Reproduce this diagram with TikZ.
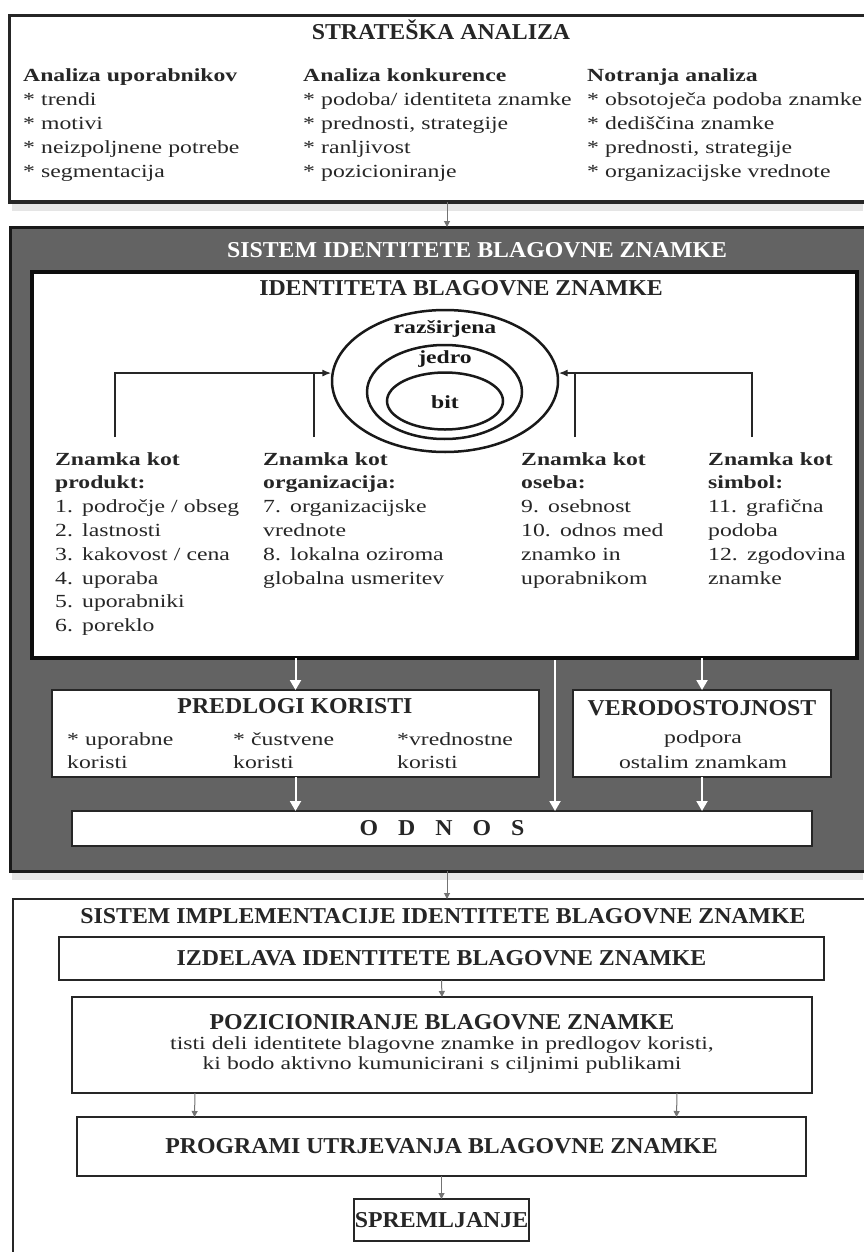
\documentclass[tikz,border=0pt]{standalone}
\usepackage{fontspec}
\setmainfont{Liberation Serif}[FakeStretch=1.28]
\newfontfamily\ttlfont{Liberation Serif}[FakeStretch=1.05]
\usetikzlibrary{shapes.geometric,arrows.meta}

\tikzset{
  box/.style={draw=black!85, line width=2.5pt, fill=white, inner sep=0, outer sep=0},
  tbox/.style={box, font=\ttlfont\bfseries\fontsize{22.7}{26}\selectfont, text=black!85},
  ttl/.style={font=\ttlfont\bfseries\fontsize{22.7}{26}\selectfont, text=black!85, inner sep=0, anchor=base},
  txt/.style={font=\fontsize{18.5}{23.8}\selectfont, text=black!85, inner sep=0, text width=300pt, align=left, anchor=base west},
  lbl/.style={font=\bfseries\fontsize{18.5}{23.8}\selectfont, text=black!90, inner sep=0, anchor=base},
  ring/.style={draw=black!90, line width=2.5pt, ellipse, inner sep=0},
  blk/.style={draw=black!85, line width=2pt, -{Latex[length=9pt,width=7pt]}},
  wht/.style={draw=white, line width=2pt, -{Triangle[length=10pt,width=11pt]}},
  gry/.style={draw=black!55, line width=1pt, -{Triangle[length=6pt,width=6pt]}}
}

\begin{document}
\begin{tikzpicture}[x=1pt,y=-1pt]
  \useasboundingbox (0,0) rectangle (863,1252);
  \fill[white] (0,0) rectangle (863,1252);
  \fill[black!10] (12,204) rectangle (863,211);
  \fill[black!10] (12,873) rectangle (863,880);

  % strateska analiza
  \node[box, line width=3pt, minimum width=857pt, minimum height=186pt] (strat) at (437.5,109) {};
  \node[ttl] (tStrat) at (441,40) {STRATEŠKA ANALIZA};
  \node[txt] (users) at (23,82) {\textbf{Analiza uporabnikov}\\{}* trendi\\{}* motivi\\{}* neizpoljnene potrebe\\{}* segmentacija};
  \node[txt] (rivals) at (303,82) {\textbf{Analiza konkurence}\\{}* podoba/ identiteta znamke\\{}* prednosti, strategije\\{}* ranljivost\\{}* pozicioniranje};
  \node[txt] (inside) at (587,82) {\textbf{Notranja analiza}\\{}* obsotoječa podoba znamke\\{}* dediščina znamke\\{}* prednosti, strategije\\{}* organizacijske vrednote};

  % sistem identitete
  \node[box, fill=black!61, draw=black!90, line width=3pt, minimum width=856pt, minimum height=644pt] (sys) at (438,549) {};
  \node[ttl, text=white] (tSys) at (477,257) {SISTEM IDENTITETE BLAGOVNE ZNAMKE};
  \node[box, draw=black!95, line width=3.5pt, minimum width=825pt, minimum height=386pt] (idb) at (444.5,465) {};
  \node[ttl] (tId) at (461,295) {IDENTITETA BLAGOVNE ZNAMKE};

  \node[ring, minimum width=226pt, minimum height=142pt] (ext) at (445,381) {};
  \node[ring, minimum width=155pt, minimum height=94pt] (core) at (444.5,392) {};
  \node[ring, minimum width=116pt, minimum height=57pt] (ess) at (445,401) {};
  \node[lbl] (tExt) at (445,333) {razširjena};
  \node[lbl] (tCore) at (445,363) {jedro};
  \node[lbl] (tEss) at (445,408) {bit};

  \node[txt] (prod) at (55,465) {\textbf{Znamka kot}\\\textbf{produkt:}\\1. področje / obseg\\2. lastnosti\\3. kakovost / cena\\4. uporaba\\5. uporabniki\\6. poreklo};
  \node[txt] (org) at (263,465) {\textbf{Znamka kot}\\\textbf{organizacija:}\\7. organizacijske\\vrednote\\8. lokalna oziroma\\globalna usmeritev};
  \node[txt] (pers) at (521,465) {\textbf{Znamka kot}\\\textbf{oseba:}\\9. osebnost\\10. odnos med\\znamko in\\uporabnikom};
  \node[txt] (symb) at (708,465) {\textbf{Znamka kot}\\\textbf{simbol:}\\11. grafična\\podoba\\12. zgodovina\\znamke};

  \coordinate (pUp) at (115,437);
  \coordinate (oUp) at (314,437);
  \coordinate (eUp) at (575,437);
  \coordinate (sUp) at (752,437);
  \draw[blk] (pUp) |- (ext.176);
  \draw[draw=black!85, line width=2pt] (oUp) -- (oUp |- ext.176);
  \draw[blk] (sUp) |- (ext.4);
  \draw[draw=black!85, line width=2pt] (eUp) -- (eUp |- ext.4);

  \node[box, minimum width=487pt, minimum height=87pt] (pred) at (295.5,733.5) {};
  \node[ttl] (tPred) at (295,713) {PREDLOGI KORISTI};
  \node[txt] (useB) at (67,745) {* uporabne\\koristi};
  \node[txt] (emoB) at (233,745) {* čustvene\\koristi};
  \node[txt] (valB) at (397,745) {*vrednostne\\koristi};

  \node[box, minimum width=258pt, minimum height=87pt] (vero) at (702,733.5) {};
  \node[ttl] (tVero) at (702,715) {VERODOSTOJNOST};
  \node[txt, align=center, text width=250pt, anchor=base, font=\fontsize{18.5}{25}\selectfont] (supp) at (703,743) {podpora\\ostalim znamkam};

  \node[tbox, minimum width=740pt, minimum height=35pt] (odn) at (442,828.5) {O\hspace{20pt}D\hspace{20pt}N\hspace{20pt}O\hspace{20pt}S};

  \coordinate (mid) at (555,660);
  \draw[wht] (pred.north |- idb.south) -- (pred.north);
  \draw[wht] (vero.north |- idb.south) -- (vero.north);
  \draw[wht] (mid) -- (mid |- odn.north);
  \draw[wht] (pred.south) -- (pred.south |- odn.north);
  \draw[wht] (vero.south) -- (vero.south |- odn.north);

  % sistem implementacije
  \node[box, line width=2pt, minimum width=857pt, minimum height=361pt] (impl) at (441.5,1079.5) {};
  \node[ttl] (tImpl) at (443,923) {SISTEM IMPLEMENTACIJE IDENTITETE BLAGOVNE ZNAMKE};
  \node[tbox, minimum width=765pt, minimum height=43pt] (izd) at (441.5,958.5) {IZDELAVA IDENTITETE BLAGOVNE ZNAMKE};
  \node[box, minimum width=740pt, minimum height=96pt] (poz) at (442,1045) {};
  \node[ttl] (tPoz) at (442,1029) {POZICIONIRANJE BLAGOVNE ZNAMKE};
  \node[txt, align=center, text width=700pt, anchor=base, font=\fontsize{18.5}{20}\selectfont] (tPozB) at (442,1049) {tisti deli identitete blagovne znamke in predlogov koristi,\\ki bodo aktivno kumunicirani s ciljnimi publikami};
  \node[tbox, minimum width=729pt, minimum height=59pt] (prg) at (441.5,1146.5) {PROGRAMI UTRJEVANJA BLAGOVNE ZNAMKE};
  \node[tbox, minimum width=175pt, minimum height=42pt] (spr) at (441.5,1220) {SPREMLJANJE};

  \coordinate (sa) at (447,202);
  \coordinate (sb) at (447,871);
  \draw[gry] (sa) -- (sa |- sys.north);
  \draw[gry] (sb) -- (sb |- impl.north);
  \draw[gry] (izd.south) -- (poz.north);
  \draw[gry] ([xshift=-247pt]poz.south) -- ([xshift=-247pt]prg.north);
  \draw[gry] ([xshift=235pt]poz.south) -- ([xshift=235pt]prg.north);
  \draw[gry] (prg.south) -- (spr.north);
\end{tikzpicture}
\end{document}
